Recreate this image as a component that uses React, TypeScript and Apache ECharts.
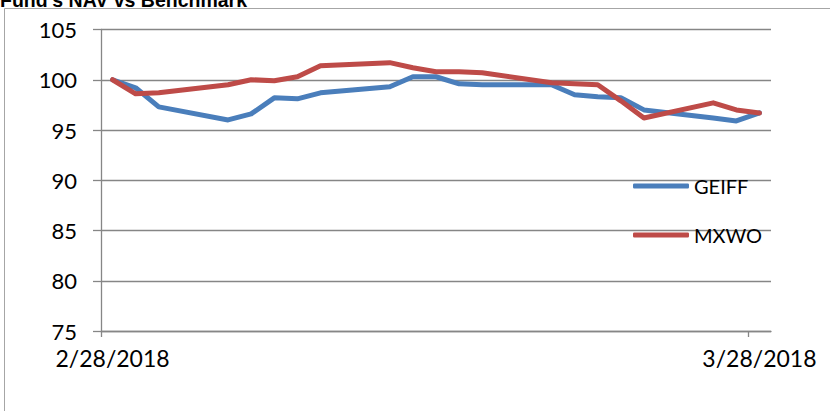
import React, { useEffect, useRef } from "react";
import * as echarts from "echarts";

const tradingDates = [
  "2018-02-28", "2018-03-01", "2018-03-02", "2018-03-05", "2018-03-06", "2018-03-07",
  "2018-03-08", "2018-03-09", "2018-03-12", "2018-03-13", "2018-03-14", "2018-03-15",
  "2018-03-16", "2018-03-19", "2018-03-20", "2018-03-21", "2018-03-22", "2018-03-23",
  "2018-03-26", "2018-03-27", "2018-03-28",
];
const geiffValues = [
  100, 99.2, 97.3, 96.0, 96.6, 98.2, 98.1, 98.7, 99.3, 100.3, 100.3, 99.6,
  99.5, 99.5, 98.5, 98.3, 98.2, 97.0, 96.2, 95.9, 96.7,
];
const mxwoValues = [
  100, 98.6, 98.7, 99.5, 100.0, 99.9, 100.3, 101.4, 101.7, 101.2, 100.8, 100.8,
  100.7, 99.7, 99.6, 99.5, 97.9, 96.2, 97.7, 97.0, 96.7,
];
const seriesNames = ["GEIFF", "MXWO"];
const xTickDates = ["2018-02-28", "2018-03-28"];
const yMin = 75;
const yMax = 105;
const yStep = 5;
const titleText = "Fund's NAV vs Benchmark";

const DAY = 86400000;
const toUTC = (s: string) => {
  const [y, m, d] = s.split("-").map(Number);
  return Date.UTC(y, m - 1, d);
};
const base = toUTC(tradingDates[0]);
const dayIndex = (s: string) => Math.round((toUTC(s) - base) / DAY);
const axisEnd = dayIndex(tradingDates[tradingDates.length - 1]) + 1;
const fmtDay = (pos: number) => {
  const t = new Date(base + Math.floor(pos) * DAY);
  return `${t.getUTCMonth() + 1}/${t.getUTCDate()}/${t.getUTCFullYear()}`;
};

const FONT = "Lato, 'Open Sans', sans-serif";
const GRID_COLOR = "#868686";
const BLUE = "#4a7ebb";
const RED = "#be4b48";

export default function App() {
  const ref = useRef<HTMLDivElement>(null);
  useEffect(() => {
    document.body.style.margin = "0";
    if (!ref.current) return;
    const chart = echarts.init(ref.current, undefined, { renderer: "svg" });
    const toPoints = (vals: number[]) =>
      tradingDates.map((d, i) => [dayIndex(d) + 0.5, vals[i]]);
    chart.setOption({
      animation: false,
      backgroundColor: "#ffffff",
      graphic: [
        {
          type: "rect",
          z: -10,
          silent: true,
          shape: { x: 4.5, y: 8.5, width: 1000, height: 1000 },
          style: { fill: "none", stroke: "#a6a6a6", lineWidth: 1 },
        },
        {
          type: "text",
          x: 0,
          y: 10,
          silent: true,
          style: {
            text: titleText,
            font: "bold 19.5px 'Liberation Sans', Arial, sans-serif",
            fill: "#000000",
            textAlign: "left",
            verticalAlign: "bottom",
          },
        },
      ],
      grid: { left: 101, right: 59, top: 29.5, bottom: 80, containLabel: false },
      legend: {
        data: seriesNames.map((n) => ({ name: n, icon: "roundRect" })),
        orient: "vertical",
        left: 628,
        top: 169,
        itemWidth: 56,
        itemHeight: 5,
        itemGap: 25,
        textStyle: { fontFamily: FONT, fontSize: 20, lineHeight: 24, color: "#000000" },
      },
      xAxis: {
        type: "value",
        min: 0,
        max: axisEnd,
        axisLine: { show: true, lineStyle: { color: GRID_COLOR, width: 1.3 } },
        axisTick: {
          show: true,
          length: 6,
          customValues: xTickDates.map((d) => dayIndex(d)),
          lineStyle: { color: GRID_COLOR, width: 1.3 },
        },
        axisLabel: {
          customValues: xTickDates.map((d) => dayIndex(d) + 0.5),
          formatter: (v: number) => fmtDay(v),
          fontFamily: FONT,
          fontSize: 23,
          color: "#000000",
          margin: 15,
        },
        splitLine: { show: false },
      },
      yAxis: {
        type: "value",
        min: yMin,
        max: yMax,
        interval: yStep,
        axisLine: { show: true, lineStyle: { color: GRID_COLOR, width: 1.3 } },
        axisTick: { show: true, length: 8, lineStyle: { color: GRID_COLOR, width: 1.3 } },
        axisLabel: { fontFamily: FONT, fontSize: 22, color: "#000000", margin: 24 },
        splitLine: { show: true, lineStyle: { color: GRID_COLOR, width: 1.3 } },
      },
      series: [
        {
          name: seriesNames[0],
          type: "line",
          data: toPoints(geiffValues),
          symbol: "none",
          color: BLUE,
          itemStyle: { color: BLUE },
          lineStyle: { width: 5, color: BLUE, cap: "round", join: "round" },
          z: 2,
        },
        {
          name: seriesNames[1],
          type: "line",
          data: toPoints(mxwoValues),
          symbol: "none",
          color: RED,
          itemStyle: { color: RED },
          lineStyle: { width: 5, color: RED, cap: "round", join: "round" },
          z: 3,
        },
      ],
    });
    return () => chart.dispose();
  }, []);
  return <div ref={ref} style={{ width: 830, height: 411 }} />;
}
